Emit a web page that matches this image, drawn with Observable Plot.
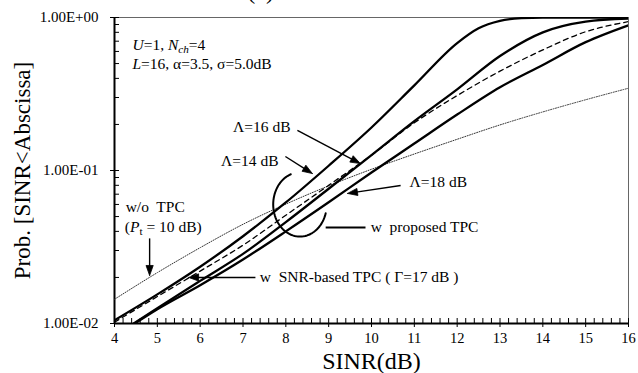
<!DOCTYPE html>
<html><head><meta charset="utf-8">
<script src="https://cdn.jsdelivr.net/npm/d3@7"></script>
<script src="https://cdn.jsdelivr.net/npm/@observablehq/plot@0.6"></script>
<style>
body{margin:0;background:#fff;}
#chart svg{display:block;overflow:visible}
#chart svg text{white-space:pre}
</style></head><body><div id="chart"></div>
<script>
// ---- data ----
const xLambda14 = [4,5,6,7,8,9,10,11,12,12.5,13,13.5,14,15,16];
const pLambda14 = [0.0105,0.0155,0.0235,0.0372,0.0618,0.1074,0.191,0.36,0.68,0.85,0.95,0.99,1,1,1];
const xLambda16 = [4.45,5,6,7,8,9,10,11,12,13,14,15,16];
const pLambda16 = [0.0100,0.0126,0.0190,0.0285,0.046,0.076,0.126,0.21,0.339,0.56,0.80,0.94,0.985];
const xLambda18 = [4.45,5,6,7,8,9,10,11,12,13,14,15,16];
const pLambda18 = [0.0099,0.0124,0.0178,0.0262,0.040,0.062,0.097,0.150,0.232,0.35,0.49,0.69,0.89];
const xSnrTpc = [4,5,6,7,8,9,10,11,12,13,14,15,16];
const pSnrTpc = [0.0102,0.0150,0.0220,0.0325,0.051,0.080,0.126,0.205,0.309,0.446,0.614,0.807,0.94];
const xNoTpc = [4,5,6,7,8,9,10,11,12,13,14,15,16];
const pNoTpc = [0.0144,0.0215,0.0313,0.0445,0.0603,0.0794,0.1019,0.1282,0.160,0.1986,0.2415,0.290,0.345];

// ---- ticks ----
const xTicks = [4,5,6,7,8,9,10,11,12,13,14,15,16];
const xTickLabels = ["4","5","6","7","8","9","10","11","12","13","14","15","16"];
const xMinorTicks = d3.range(4, 16.0001, 0.2);
const yTicks = [0.01, 0.1, 1];
const yTickLabels = ["1.00E-02","1.00E-01","1.00E+00"];
const yMinorTicks = [0.01,0.02,0.03,0.04,0.05,0.06,0.07,0.08,0.09,0.1,0.2,0.3,0.4,0.5,0.6,0.7,0.8,0.9,1];

// ---- texts ----
const titleText = "(a)";
const xTitle = "SINR(dB)";
const yTitle = "Prob. [SINR<Abscissa]";

// ---- annotations (data units) ----
const notes = [
  {x: 8.11, y: 0.191, text: "Λ=16 dB", anchor: "end"},
  {x: 7.83, y: 0.1145, text: "Λ=14 dB", anchor: "end"},
  {x: 10.89, y: 0.0835, text: "Λ=18 dB", anchor: "start"},
  {x: 9.98, y: 0.0424, text: "w  proposed TPC", anchor: "start"},
  {x: 7.39, y: 0.02, text: "w  SNR-based TPC ( Γ=17 dB )", anchor: "start"},
  {x: 4.26, y: 0.0573, text: "w/o  TPC", anchor: "start"},
  {x: 4.24, y: 0.0424, text: "(Pt = 10 dB)", anchor: "start"},
  {x: 4.42, y: 0.665, text: "U=1, Nch=4", anchor: "start"},
  {x: 4.42, y: 0.50, text: "L=16, α=3.5, σ=5.0dB", anchor: "start"}
];
const arrows = [
  {x1: 8.27, y1: 0.1826, x2: 9.74, y2: 0.111},
  {x1: 7.99, y1: 0.1235, x2: 8.62, y2: 0.0955},
  {x1: 10.68, y1: 0.0798, x2: 9.44, y2: 0.0708},
  {x1: 7.29, y1: 0.02, x2: 5.73, y2: 0.02},
  {x1: 4.82, y1: 0.036, x2: 4.82, y2: 0.0206}
];
const connector = [{x1: 8.93, y1: 0.0424, x2: 9.86, y2: 0.0424}];
const ring = {cx: 8.33, cyLog: -1.222, rx: 0.625, ryLog: 0.21, fromDeg: 250, toDeg: 16};

// ---- layout ----
const W = 638, H = 373, mL = 114, mR = 10, mT = 17, mB = 50;
const kx = (W - mL - mR) / 12;          // px per dB
const ky = (H - mT - mB) / 2;           // px per decade
const serif = "'Liberation Serif', 'Times New Roman', serif";

const ringPts = d3.range(0, 61).map(i => {
  const t = (ring.fromDeg + (ring.toDeg - ring.fromDeg) * i / 60) * Math.PI / 180;
  return {x: ring.cx + ring.rx * Math.cos(t), y: Math.pow(10, ring.cyLog - ring.ryLog * Math.sin(t))};
});

// filled arrow heads, built in screen space then mapped back to data space
const headL = 10, headW = 3.6;
const shafts = [], heads = [];
arrows.forEach((a, k) => {
  const dxp = (a.x2 - a.x1) * kx, dyp = -(Math.log10(a.y2) - Math.log10(a.y1)) * ky;
  const n = Math.hypot(dxp, dyp), ux = dxp / n, uy = dyp / n;
  const toData = (px, py) => ({x: a.x2 + px / kx, y: Math.pow(10, Math.log10(a.y2) - py / ky), k});
  const bx = -ux * headL, by = -uy * headL;
  heads.push(toData(0, 0), toData(bx - uy * headW, by + ux * headW), toData(bx + uy * headW, by - ux * headW), toData(0, 0));
  const base = toData(bx * 0.7, by * 0.7);
  shafts.push({x1: a.x1, y1: a.y1, x2: base.x, y2: base.y});
});

const toRows = (xs, ps) => xs.map((x, i) => ({x, p: ps[i]}));
const solid = {x: "x", y: "p", stroke: "black", strokeWidth: 2.3, curve: "monotone-x", clip: true};
const noteOpts = {x: "x", y: "y", text: "text", fontSize: 15.5, lineAnchor: "middle", fill: "black", fontFamily: serif};

const plot = Plot.plot({
  width: W, height: H,
  marginLeft: mL, marginRight: mR, marginTop: mT, marginBottom: mB,
  style: {fontFamily: serif, background: "white", color: "black", overflow: "visible"},
  x: {domain: [4, 16], label: null},
  y: {type: "log", domain: [0.01, 1], label: null},
  marks: [
    Plot.frame({stroke: "#666", strokeWidth: 1}),
    Plot.axisX({ticks: xTicks, tickSize: 4, tickPadding: 5, fontSize: 14.5, fontFamily: serif, label: null,
      tickFormat: d => xTickLabels[xTicks.indexOf(d)]}),
    Plot.axisX({ticks: xMinorTicks, tickSize: 5, dy: -5, tickFormat: () => "", label: null}),
    Plot.axisY({ticks: yTicks, tickSize: 4, tickPadding: 12, fontSize: 15, fontFamily: serif, label: null,
      tickFormat: d => yTickLabels[yTicks.indexOf(d)]}),
    Plot.axisY({ticks: yMinorTicks, tickSize: 5, dx: 5, tickFormat: () => "", label: null}),
    Plot.ruleX([4], {stroke: "black", strokeWidth: 2}),
    Plot.ruleY([0.01], {stroke: "black", strokeWidth: 2}),
    Plot.line(toRows(xNoTpc, pNoTpc), {x: "x", y: "p", stroke: "#333", strokeWidth: 1, strokeDasharray: "1,1.5", curve: "monotone-x", clip: true}),
    Plot.line(toRows(xSnrTpc, pSnrTpc), {x: "x", y: "p", stroke: "black", strokeWidth: 1.3, strokeDasharray: "5,4", curve: "monotone-x", clip: true}),
    Plot.line(toRows(xLambda18, pLambda18), solid),
    Plot.line(toRows(xLambda16, pLambda16), solid),
    Plot.line(toRows(xLambda14, pLambda14), solid),
    Plot.link(shafts, {x1: "x1", y1: "y1", x2: "x2", y2: "y2", stroke: "black", strokeWidth: 1.4}),
    Plot.line(heads, {x: "x", y: "y", z: "k", fill: "black", stroke: "black", strokeWidth: 0.8, curve: "linear"}),
    Plot.link(connector, {x1: "x1", y1: "y1", x2: "x2", y2: "y2", stroke: "black", strokeWidth: 2}),
    Plot.line(ringPts, {x: "x", y: "y", stroke: "black", strokeWidth: 2, curve: "linear"}),
    Plot.text(notes, {...noteOpts, textAnchor: "start", filter: d => d.anchor === "start"}),
    Plot.text(notes, {...noteOpts, textAnchor: "end", filter: d => d.anchor === "end"}),
    Plot.text([xTitle], {frameAnchor: "bottom", textAnchor: "middle", dy: 45.5, lineAnchor: "bottom", fontSize: 24, fill: "black", fontFamily: serif}),
    Plot.text([yTitle], {frameAnchor: "left", textAnchor: "middle", rotate: -90, dx: -92, lineAnchor: "middle", fontSize: 23, fill: "black", fontFamily: serif}),
    Plot.text([titleText], {x: [7.41], frameAnchor: "top", textAnchor: "middle", dy: -19, lineAnchor: "bottom", fontSize: 24, fill: "black", fontFamily: serif})
  ]
});

function rich(svg, plain, parts) {
  svg.querySelectorAll("text").forEach(t => {
    if (t.textContent !== plain) return;
    t.textContent = "";
    let shifted = false;
    for (const [s, st] of parts) {
      const ts = document.createElementNS("http://www.w3.org/2000/svg", "tspan");
      ts.textContent = s;
      if (st.includes("i")) ts.setAttribute("font-style", "italic");
      if (st.includes("sub")) { ts.setAttribute("font-size", "0.72em"); ts.setAttribute("dy", "3"); shifted = true; }
      else if (shifted) { ts.setAttribute("dy", "-3"); shifted = false; }
      t.appendChild(ts);
    }
  });
}
rich(plot, "U=1, Nch=4", [["U","i"],["=1, ",""],["N","i"],["ch","i sub"],["=4",""]]);
rich(plot, "L=16, α=3.5, σ=5.0dB", [["L","i"],["=16, α=3.5, σ=5.0dB",""]]);
rich(plot, "(Pt = 10 dB)", [["(",""],["P","i"],["t","sub"],[" = 10 dB)",""]]);

document.getElementById("chart").appendChild(plot);
</script></body></html>
